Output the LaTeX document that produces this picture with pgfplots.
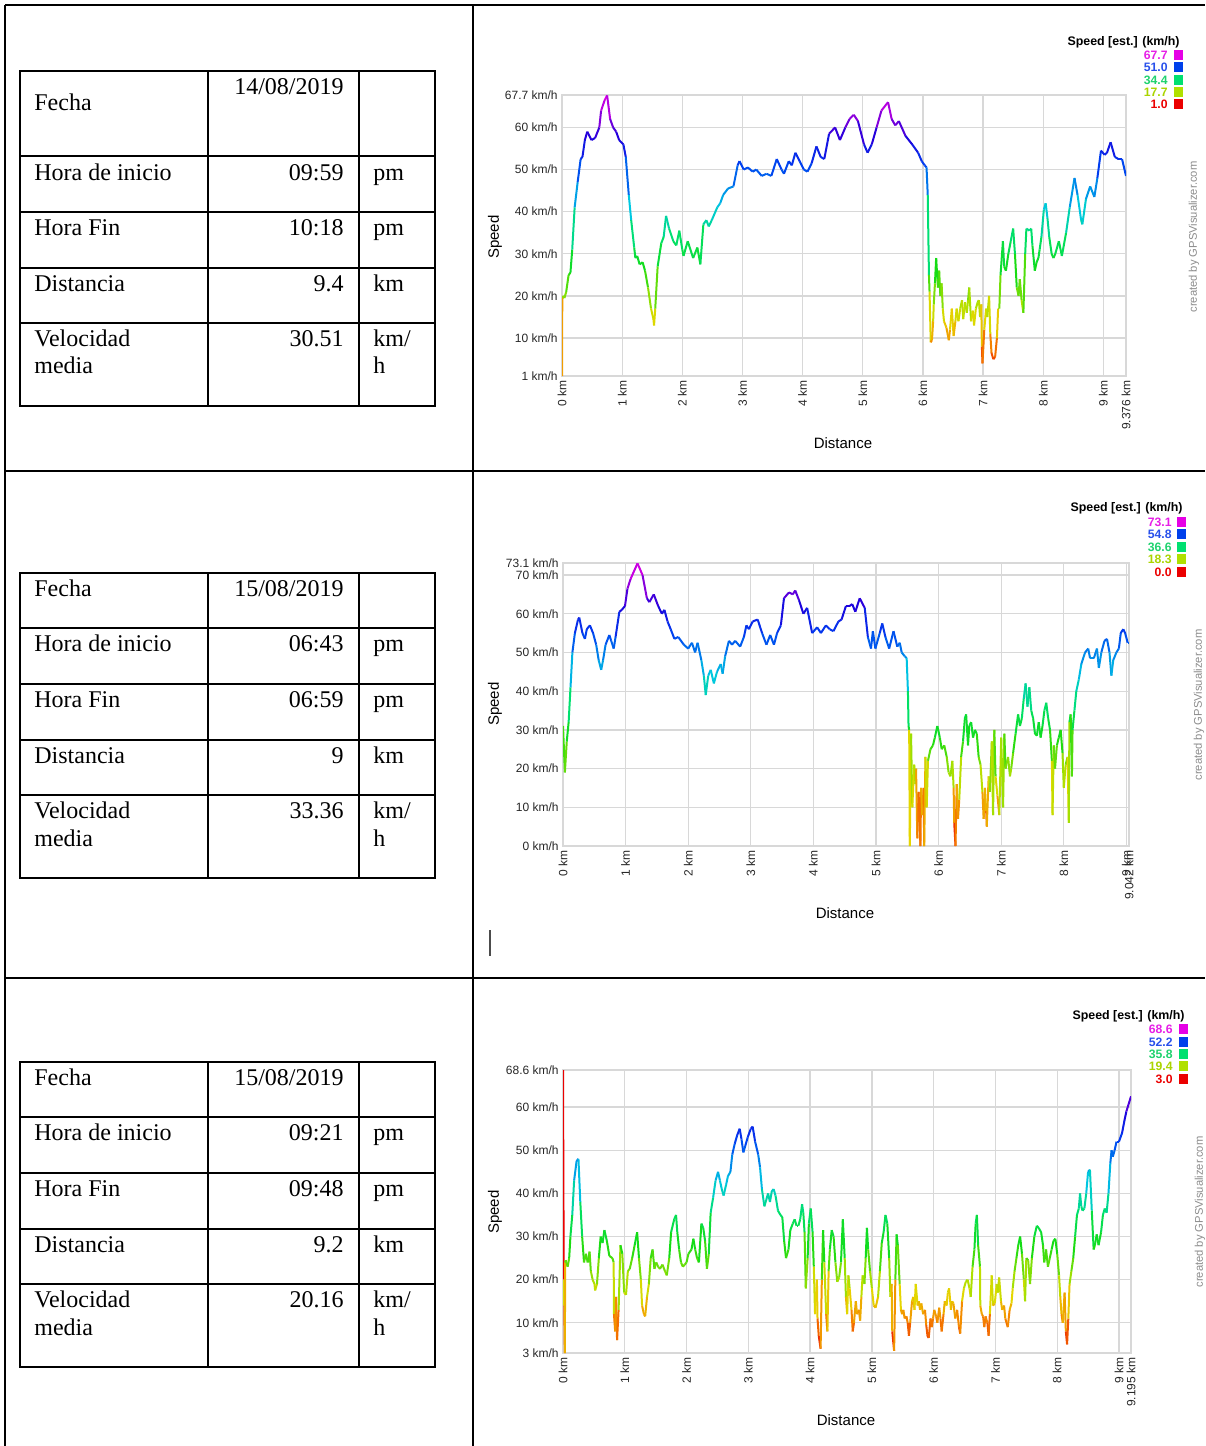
\documentclass[border=0pt]{standalone}
\usepackage{pgfplots}
\pgfplotsset{compat=1.18}
\usepackage{fontspec}
\setmainfont{Liberation Serif}
\newfontfamily\arial{Liberation Sans}
\definecolor{gridgray}{RGB}{216,216,216}
\definecolor{lgmag}{RGB}{230,0,230}
\definecolor{lgblue}{RGB}{0,64,235}
\definecolor{lggreen}{RGB}{0,224,112}
\definecolor{lgyg}{RGB}{176,224,0}
\definecolor{lgred}{RGB}{235,0,0}
\definecolor{tmag}{RGB}{230,30,230}
\definecolor{tblue}{RGB}{40,80,235}
\definecolor{tgreen}{RGB}{30,210,110}
\definecolor{tyg}{RGB}{170,212,0}
\definecolor{tred}{RGB}{235,0,0}
\definecolor{credgray}{RGB}{140,140,140}
\newcommand\tabfont{\fontsize{12}{14}\selectfont}
\newcommand\tickfont{\arial\fontsize{6}{7}\selectfont}
\newcommand\labfont{\arial\fontsize{7.5}{9}\selectfont}
\newcommand\lgtitlefont{\arial\bfseries\fontsize{6.2}{7}\selectfont}
\newcommand\lgfont{\arial\bfseries\fontsize{6.1}{7}\selectfont}
\newcommand\credfont{\arial\fontsize{5.6}{7}\selectfont}
\pgfplotsset{
  colormap={speed}{rgb255(0pt)=(235,0,0); rgb255(12pt)=(245,135,0); rgb255(20pt)=(230,215,0); rgb255(25pt)=(176,224,0); rgb255(38pt)=(20,220,20); rgb255(50pt)=(0,224,112); rgb255(60pt)=(0,200,225); rgb255(68pt)=(0,130,235); rgb255(75pt)=(0,64,240); rgb255(85pt)=(30,0,220); rgb255(92pt)=(140,0,220); rgb255(100pt)=(230,0,230)},
  gpsaxis/.style={
    scale only axis,
    anchor=south west,
    grid=major,
    major grid style={draw=gridgray, line width=0.65pt},
    axis line style={draw=gridgray, line width=0.65pt},
    major tick length=0pt,
    tick style={draw=none},
    tick label style={font=\tickfont, text=black!85},
    xticklabel style={rotate=90, anchor=east, inner sep=2pt},
    yticklabel style={anchor=east, inner sep=2pt},
    colormap name=speed,
  },
}
\begin{document}
\begin{tikzpicture}
% ---------------- frame and tables ----------------
\begin{scope}[x=0.5pt,y=-0.5pt]
\draw[line width=1pt] (5,5) -- (1205,5);
\draw[line width=1pt] (5,5) -- (5,1446);
\draw[line width=1pt] (473,5) -- (473,1446);
\draw[line width=1pt] (5,471) -- (1205,471);
\draw[line width=1pt] (5,978) -- (1205,978);
\draw[line width=1pt, black!70] (490,930) -- (490,956);
% table 1
\draw[line width=1pt] (20,71) rectangle (435,406);
\foreach \yy in {156,212,268,323} \draw[line width=1pt] (20,\yy) -- (435,\yy);
\draw[line width=1pt] (208,71) -- (208,406);
\draw[line width=1pt] (359,71) -- (359,406);
\begin{scope}[every node/.style={inner sep=0pt, font=\tabfont}]
\node[anchor=base west] at (34,110) {Fecha};
\node[anchor=base east] at (344,94) {14/08/2019};
\node[anchor=base west] at (34,180) {Hora de inicio};
\node[anchor=base east] at (344,180) {09:59};
\node[anchor=base west] at (373,180) {pm};
\node[anchor=base west] at (34,235) {Hora Fin};
\node[anchor=base east] at (344,235) {10:18};
\node[anchor=base west] at (373,235) {pm};
\node[anchor=base west] at (34,291) {Distancia};
\node[anchor=base east] at (344,291) {9.4};
\node[anchor=base west] at (373,291) {km};
\node[anchor=base west] at (34,346) {Velocidad};
\node[anchor=base west] at (34,373) {media};
\node[anchor=base east] at (344,346) {30.51};
\node[anchor=base west] at (373,346) {km/};
\node[anchor=base west] at (373,373) {h};
\end{scope}
% table 2
\draw[line width=1pt] (20,573) rectangle (435,878);
\foreach \yy in {628,684,740,795} \draw[line width=1pt] (20,\yy) -- (435,\yy);
\draw[line width=1pt] (208,573) -- (208,878);
\draw[line width=1pt] (359,573) -- (359,878);
\begin{scope}[every node/.style={inner sep=0pt, font=\tabfont}]
\node[anchor=base west] at (34,596) {Fecha};
\node[anchor=base east] at (344,596) {15/08/2019};
\node[anchor=base west] at (34,651) {Hora de inicio};
\node[anchor=base east] at (344,651) {06:43};
\node[anchor=base west] at (373,651) {pm};
\node[anchor=base west] at (34,707) {Hora Fin};
\node[anchor=base east] at (344,707) {06:59};
\node[anchor=base west] at (373,707) {pm};
\node[anchor=base west] at (34,763) {Distancia};
\node[anchor=base east] at (344,763) {9};
\node[anchor=base west] at (373,763) {km};
\node[anchor=base west] at (34,818) {Velocidad};
\node[anchor=base west] at (34,846) {media};
\node[anchor=base east] at (344,818) {33.36};
\node[anchor=base west] at (373,818) {km/};
\node[anchor=base west] at (373,846) {h};
\end{scope}
% table 3
\draw[line width=1pt] (20,1062) rectangle (435,1367);
\foreach \yy in {1117,1173,1229,1284} \draw[line width=1pt] (20,\yy) -- (435,\yy);
\draw[line width=1pt] (208,1062) -- (208,1367);
\draw[line width=1pt] (359,1062) -- (359,1367);
\begin{scope}[every node/.style={inner sep=0pt, font=\tabfont}]
\node[anchor=base west] at (34,1085) {Fecha};
\node[anchor=base east] at (344,1085) {15/08/2019};
\node[anchor=base west] at (34,1140) {Hora de inicio};
\node[anchor=base east] at (344,1140) {09:21};
\node[anchor=base west] at (373,1140) {pm};
\node[anchor=base west] at (34,1196) {Hora Fin};
\node[anchor=base east] at (344,1196) {09:48};
\node[anchor=base west] at (373,1196) {pm};
\node[anchor=base west] at (34,1252) {Distancia};
\node[anchor=base east] at (344,1252) {9.2};
\node[anchor=base west] at (373,1252) {km};
\node[anchor=base west] at (34,1307) {Velocidad};
\node[anchor=base west] at (34,1335) {media};
\node[anchor=base east] at (344,1307) {20.16};
\node[anchor=base west] at (373,1307) {km/};
\node[anchor=base west] at (373,1335) {h};
\end{scope}
% chart decorations
\node[rotate=90, font=\labfont] at (495,237) {Speed};
\node[font=\labfont] at (843,443) {Distance};
\node[rotate=90, font=\labfont] at (495,704) {Speed};
\node[font=\labfont] at (845,913) {Distance};
\node[rotate=90, font=\labfont] at (495,1212) {Speed};
\node[font=\labfont] at (846,1420) {Distance};
\node[rotate=90, font=\credfont, text=credgray] at (1194,237) {created by GPSVisualizer.com};
\node[rotate=90, font=\credfont, text=credgray] at (1199,705) {created by GPSVisualizer.com};
\node[rotate=90, font=\credfont, text=credgray] at (1200,1212) {created by GPSVisualizer.com};
% legend 1
\node[anchor=east, inner sep=0pt, font=\lgtitlefont] at (1180,42) {Speed [est.] (km/h)};
\begin{scope}[every node/.style={anchor=east, inner sep=0pt, font=\lgfont}]
\node[text=tmag] at (1168,55) {67.7};
\node[text=tblue] at (1168,67) {51.0};
\node[text=tgreen] at (1168,80) {34.4};
\node[text=tyg] at (1168,92) {17.7};
\node[text=tred] at (1168,104) {1.0};
\end{scope}
\fill[lgmag] (1174,50) rectangle (1183,60);
\fill[lgblue] (1174,62) rectangle (1183,72);
\fill[lggreen] (1174,75) rectangle (1183,85);
\fill[lgyg] (1174,87) rectangle (1183,97);
\fill[lgred] (1174,99) rectangle (1183,109);
% legend 2
\node[anchor=east, inner sep=0pt, font=\lgtitlefont] at (1183,508) {Speed [est.] (km/h)};
\begin{scope}[every node/.style={anchor=east, inner sep=0pt, font=\lgfont}]
\node[text=tmag] at (1172,522) {73.1};
\node[text=tblue] at (1172,534) {54.8};
\node[text=tgreen] at (1172,547) {36.6};
\node[text=tyg] at (1172,559) {18.3};
\node[text=tred] at (1172,572) {0.0};
\end{scope}
\fill[lgmag] (1177,517) rectangle (1186,527);
\fill[lgblue] (1177,529) rectangle (1186,539);
\fill[lggreen] (1177,542) rectangle (1186,552);
\fill[lgyg] (1177,554) rectangle (1186,564);
\fill[lgred] (1177,567) rectangle (1186,577);
% legend 3
\node[anchor=east, inner sep=0pt, font=\lgtitlefont] at (1185,1016) {Speed [est.] (km/h)};
\begin{scope}[every node/.style={anchor=east, inner sep=0pt, font=\lgfont}]
\node[text=tmag] at (1173,1029) {68.6};
\node[text=tblue] at (1173,1042) {52.2};
\node[text=tgreen] at (1173,1054) {35.8};
\node[text=tyg] at (1173,1066) {19.4};
\node[text=tred] at (1173,1079) {3.0};
\end{scope}
\fill[lgmag] (1179,1024) rectangle (1188,1034);
\fill[lgblue] (1179,1037) rectangle (1188,1047);
\fill[lggreen] (1179,1049) rectangle (1188,1059);
\fill[lgyg] (1179,1061) rectangle (1188,1071);
\fill[lgred] (1179,1074) rectangle (1188,1084);
\end{scope}

% ---------------- chart 1 ----------------
\begin{axis}[gpsaxis, at={(281pt,-188pt)}, width=282pt, height=140.5pt,
  xmin=0, xmax=9.376, ymin=1, ymax=67.7,
  point meta min=1, point meta max=67.7,
  xtick={0,1,2,3,4,5,6,7,8,9,9.376},
  xticklabels={0 km,1 km,2 km,3 km,4 km,5 km,6 km,7 km,8 km,9 km,9.376 km},
  ytick={1,10,20,30,40,50,60,67.7},
  yticklabels={1 km/h,10 km/h,20 km/h,30 km/h,40 km/h,50 km/h,60 km/h,67.7 km/h}]
\addplot[mesh, point meta=y, line width=1pt] coordinates {
(0,1) (0.005,20) (0.04,19.5) (0.07,21) (0.11,25) (0.14,25.5) (0.17,31) (0.21,41) (0.26,47) (0.31,52.5) (0.34,53) (0.38,57) (0.42,59) (0.49,57) (0.55,57.5) (0.62,60) (0.65,64) (0.71,66.5) (0.75,67.6) (0.80,62) (0.85,60) (0.90,59) (0.95,57) (1.02,56) (1.06,53) (1.11,44) (1.15,38) (1.20,31.5) (1.22,29) (1.25,29.5) (1.29,27.5) (1.34,28) (1.38,26) (1.43,22) (1.48,17) (1.52,14.5) (1.53,13) (1.55,17) (1.59,27) (1.65,32.5) (1.69,34) (1.73,39) (1.78,36) (1.85,33) (1.90,32) (1.95,35.5) (2.00,31) (2.02,29.5) (2.09,33) (2.18,29) (2.25,31.5) (2.30,27.5) (2.35,37) (2.40,38) (2.44,36.5) (2.49,38) (2.58,41) (2.63,42) (2.68,44) (2.76,45.5) (2.85,46) (2.92,51) (2.95,52) (3.02,50) (3.09,50.5) (3.17,49.5) (3.23,50) (3.32,48.5) (3.40,49) (3.48,48.5) (3.57,52.5) (3.65,50) (3.69,49) (3.77,52) (3.82,51) (3.88,54) (3.95,52) (4.02,50) (4.08,49.5) (4.15,51.5) (4.23,55.5) (4.30,53) (4.36,52.5) (4.44,58.5) (4.54,60) (4.62,57) (4.71,60) (4.78,62) (4.85,63) (4.92,61.5) (5.02,56) (5.08,54) (5.15,56) (5.23,60) (5.31,64) (5.42,66) (5.48,62) (5.54,60.5) (5.60,61.5) (5.71,58) (5.82,56) (5.92,54) (5.98,52) (6.03,51) (6.06,50.5) (6.08,44) (6.10,25) (6.11,21) (6.13,9) (6.15,9.5) (6.17,14) (6.18,18) (6.20,23) (6.22,29) (6.24,24) (6.25,22) (6.27,26) (6.29,20) (6.31,23) (6.33,17) (6.35,14) (6.39,12.5) (6.43,9.5) (6.45,12) (6.48,17) (6.51,10.5) (6.54,14) (6.56,17) (6.59,14) (6.62,17) (6.65,19) (6.67,14.5) (6.70,18.5) (6.73,16) (6.75,19) (6.77,22) (6.80,14) (6.83,16.5) (6.85,13) (6.88,17) (6.91,18.5) (6.93,19) (6.95,15) (6.97,18) (6.98,8) (6.99,4) (7.02,12) (7.05,17) (7.07,15) (7.10,20) (7.12,11) (7.14,6.5) (7.17,5) (7.20,5.5) (7.23,10) (7.25,17) (7.27,17) (7.29,25) (7.33,33) (7.35,27) (7.38,26) (7.42,30) (7.46,33) (7.50,36) (7.53,30) (7.56,22) (7.59,20) (7.61,24) (7.64,19) (7.67,16) (7.70,30) (7.72,36) (7.77,35.5) (7.80,36) (7.82,32) (7.86,26) (7.89,28) (7.92,29) (7.94,31) (7.97,34) (8.01,40.5) (8.04,42) (8.07,38.5) (8.10,34) (8.14,30) (8.17,29) (8.20,30) (8.26,33) (8.31,29.5) (8.38,35) (8.44,41) (8.52,48) (8.57,44) (8.63,38) (8.65,37) (8.71,43) (8.78,46) (8.85,43.5) (8.90,48) (8.96,54.5) (9.02,53.5) (9.06,54) (9.12,56.5) (9.19,53) (9.25,52.5) (9.31,52.5) (9.376,48.5)
};
\end{axis}

% ---------------- chart 2 ----------------
\begin{axis}[gpsaxis, at={(281.5pt,-423pt)}, width=283pt, height=141.5pt,
  xmin=0, xmax=9.042, ymin=0, ymax=73.1,
  point meta min=0, point meta max=73.1,
  xtick={0,1,2,3,4,5,6,7,8,9,9.042},
  xticklabels={0 km,1 km,2 km,3 km,4 km,5 km,6 km,7 km,8 km,9 km,9.042 km},
  ytick={0,10,20,30,40,50,60,70,73.1},
  yticklabels={0 km/h,10 km/h,20 km/h,30 km/h,40 km/h,50 km/h,60 km/h,70 km/h,73.1 km/h}]
\addplot[mesh, point meta=y, line width=1pt] coordinates {
(0,31) (0.03,19) (0.06,27) (0.09,32) (0.12,41) (0.15,50) (0.19,55) (0.24,58.5) (0.26,59) (0.31,55) (0.35,53.5) (0.38,56) (0.43,57) (0.48,55) (0.53,52) (0.57,48) (0.61,45.5) (0.64,48) (0.68,52) (0.74,54.5) (0.77,53) (0.81,51) (0.84,54) (0.90,60.5) (0.94,61) (0.99,62) (1.03,66.5) (1.08,69) (1.19,73) (1.27,70) (1.34,64) (1.38,63) (1.45,65) (1.52,62) (1.58,60) (1.62,61) (1.67,58) (1.72,56) (1.78,53.5) (1.84,54) (1.93,52) (2.00,51) (2.06,52.5) (2.11,50) (2.15,52.5) (2.21,48) (2.25,44) (2.28,39) (2.32,44) (2.36,45.5) (2.41,42) (2.46,45) (2.52,47) (2.55,44.5) (2.59,49) (2.65,53) (2.70,52) (2.75,53) (2.83,51.5) (2.89,54) (2.93,57) (2.97,56) (3.03,58) (3.11,58.5) (3.18,55) (3.25,52) (3.31,54.5) (3.37,52) (3.42,55) (3.48,57) (3.53,64) (3.61,65.5) (3.67,65) (3.71,66) (3.77,63.5) (3.84,60) (3.90,61.5) (3.98,55) (4.06,56.5) (4.12,55) (4.20,57) (4.26,56) (4.32,55.5) (4.40,58) (4.45,58.5) (4.52,62) (4.58,62) (4.62,62.5) (4.67,60.5) (4.74,64) (4.82,61.5) (4.87,54) (4.92,51) (4.95,55.5) (4.99,51) (5.06,55) (5.10,57.5) (5.15,54) (5.21,51) (5.28,55.5) (5.34,51.5) (5.38,52.5) (5.41,50) (5.46,49) (5.49,48.5) (5.51,40) (5.52,31) (5.53,30) (5.54,0) (5.56,29) (5.58,10) (5.61,21) (5.63,16) (5.64,20) (5.66,2) (5.68,14) (5.71,0) (5.72,15) (5.74,8) (5.76,15) (5.77,0) (5.79,23) (5.81,10) (5.83,22) (5.87,25) (5.91,26) (5.94,28) (5.98,31) (6.02,28) (6.05,25) (6.09,26) (6.13,23) (6.16,19) (6.19,18) (6.22,22) (6.24,15) (6.25,6) (6.27,0) (6.29,16) (6.31,7) (6.33,12) (6.36,23) (6.39,27) (6.42,33) (6.44,34) (6.47,26) (6.49,31) (6.52,32) (6.55,28) (6.58,30) (6.61,29) (6.64,23) (6.67,21) (6.70,14) (6.72,7) (6.74,15) (6.76,9) (6.77,5) (6.80,18) (6.82,14) (6.85,27) (6.87,8) (6.89,30) (6.91,18) (6.94,13) (6.97,8) (7.00,28) (7.03,10) (7.05,29) (7.07,20) (7.11,23) (7.14,18) (7.16,20) (7.19,24) (7.23,29) (7.27,34) (7.30,31) (7.33,33) (7.36,38) (7.39,42) (7.42,36) (7.45,41) (7.48,35) (7.51,33) (7.54,29) (7.57,28.5) (7.60,32) (7.63,28) (7.66,31) (7.69,35) (7.72,37) (7.75,33) (7.78,30) (7.81,22) (7.82,8) (7.84,26) (7.86,20) (7.89,26) (7.92,28) (7.95,30) (7.98,24) (8.00,15) (8.03,21) (8.06,23) (8.08,6) (8.09,32) (8.11,34) (8.13,18) (8.14,30) (8.17,35) (8.20,40) (8.24,43) (8.28,47) (8.34,50) (8.39,51) (8.42,48.5) (8.48,48.5) (8.53,51) (8.56,46) (8.60,50) (8.65,53) (8.69,53.5) (8.73,50) (8.76,44) (8.79,48) (8.84,50) (8.88,51) (8.91,55) (8.95,56) (8.98,55) (9.02,52.5) (9.042,52.5)
};
\end{axis}

% ---------------- chart 3 ----------------
\begin{axis}[gpsaxis, at={(281.5pt,-676.5pt)}, width=284pt, height=141.5pt,
  xmin=0, xmax=9.195, ymin=3, ymax=68.6,
  point meta min=3, point meta max=68.6,
  xtick={0,1,2,3,4,5,6,7,8,9,9.195},
  xticklabels={0 km,1 km,2 km,3 km,4 km,5 km,6 km,7 km,8 km,9 km,9.195 km},
  ytick={3,10,20,30,40,50,60,68.6},
  yticklabels={3 km/h,10 km/h,20 km/h,30 km/h,40 km/h,50 km/h,60 km/h,68.6 km/h}]
\addplot[lgred, line width=1pt] coordinates {(0.002,68.6) (0.004,52) (0.012,20)};
\addplot[mesh, point meta=y, line width=1pt] coordinates {
(0.012,20) (0.02,14) (0.03,3) (0.035,24) (0.045,24.5) (0.075,23) (0.10,25) (0.12,30) (0.15,35) (0.18,43) (0.22,47.5) (0.25,48) (0.28,38) (0.31,30) (0.34,24) (0.37,26) (0.40,24) (0.43,26.5) (0.45,22) (0.48,20) (0.51,19) (0.52,17.5) (0.55,19) (0.58,25) (0.61,30) (0.64,28.5) (0.67,31.5) (0.71,29) (0.75,25.5) (0.80,25) (0.82,24) (0.825,12) (0.845,8) (0.86,16) (0.875,6) (0.90,13) (0.93,28) (0.96,26) (0.99,17) (1.02,16.5) (1.05,22) (1.08,22.5) (1.12,25) (1.16,28) (1.20,31) (1.23,25) (1.26,20) (1.28,14) (1.31,12) (1.33,11.5) (1.36,16) (1.39,19) (1.42,25) (1.45,27) (1.48,22.5) (1.51,24) (1.54,23) (1.57,22.5) (1.61,23.5) (1.65,22) (1.68,21) (1.72,25) (1.75,31) (1.80,34) (1.83,35) (1.85,31) (1.88,27) (1.91,24) (1.94,23) (1.97,23.5) (2.00,24) (2.03,26) (2.08,27) (2.11,29.5) (2.14,27) (2.17,25) (2.20,24) (2.24,33) (2.27,32) (2.30,29) (2.33,22.5) (2.36,26) (2.39,35.5) (2.43,39) (2.47,43) (2.51,45) (2.54,43) (2.57,41) (2.60,39.5) (2.64,42) (2.67,44) (2.71,45) (2.74,49) (2.78,51.5) (2.82,53.5) (2.86,55) (2.89,52.5) (2.92,49.5) (2.95,51) (2.99,53) (3.04,55) (3.07,55.5) (3.11,52) (3.16,49) (3.19,46) (3.22,41) (3.26,37) (3.29,38.5) (3.32,40) (3.35,38) (3.38,40.5) (3.41,41) (3.44,39.5) (3.48,36) (3.52,35) (3.55,34.5) (3.58,29) (3.61,25) (3.65,27) (3.68,31.5) (3.72,33) (3.75,34) (3.78,32.5) (3.81,32.5) (3.84,34) (3.87,37.5) (3.89,35.5) (3.91,31) (3.93,18) (3.96,25) (3.98,33) (4.01,36.5) (4.04,31) (4.06,23) (4.08,12) (4.11,20) (4.12,11) (4.14,7) (4.17,4) (4.19,20) (4.21,31.5) (4.23,24) (4.26,12) (4.28,8) (4.30,22) (4.32,27) (4.35,31.5) (4.38,30) (4.41,24) (4.44,19.5) (4.47,20.5) (4.50,24) (4.53,34) (4.56,25) (4.58,16) (4.60,12) (4.62,21) (4.64,18) (4.67,13) (4.69,8) (4.71,10) (4.74,15) (4.76,12) (4.79,13) (4.81,10.5) (4.83,16) (4.85,21) (4.88,19) (4.90,25) (4.92,32) (4.94,27) (4.97,22) (5.00,18) (5.03,14) (5.06,13.5) (5.10,16) (5.13,22) (5.16,28.5) (5.19,31) (5.22,35) (5.25,33) (5.28,25) (5.30,16) (5.32,19) (5.33,8) (5.36,3.5) (5.38,20) (5.40,30.5) (5.42,28) (5.45,19) (5.47,13) (5.49,12) (5.51,13) (5.53,11) (5.56,11.5) (5.58,10) (5.60,7) (5.62,10) (5.65,15) (5.67,16) (5.69,13) (5.71,19) (5.74,14) (5.76,15) (5.78,13) (5.80,14.5) (5.83,12) (5.86,13) (5.88,9.5) (5.90,7) (5.92,6.5) (5.95,11) (5.97,9) (5.99,11) (6.01,13) (6.04,11.5) (6.06,10) (6.09,13.5) (6.11,11) (6.13,8) (6.16,12) (6.18,15) (6.21,14) (6.23,17) (6.25,18) (6.28,13) (6.30,15) (6.32,14.5) (6.35,11) (6.38,13) (6.41,9) (6.43,7.5) (6.46,15) (6.49,18) (6.52,19.5) (6.55,20) (6.58,18) (6.60,16) (6.63,23) (6.66,27) (6.68,33) (6.70,35) (6.72,28) (6.75,23) (6.755,14) (6.78,12) (6.80,11.5) (6.82,9) (6.84,11.5) (6.87,10) (6.89,7) (6.91,12) (6.94,21) (6.96,14) (6.99,14.5) (7.02,19) (7.04,17) (7.06,20.5) (7.09,15) (7.11,13) (7.14,14) (7.16,11) (7.18,10) (7.20,9) (7.23,13) (7.26,14.5) (7.28,18) (7.31,22) (7.34,25) (7.37,28) (7.40,30) (7.43,26) (7.46,20) (7.48,15) (7.50,25) (7.53,24.5) (7.56,19) (7.59,25) (7.63,30) (7.67,32.5) (7.70,32) (7.74,31) (7.77,28) (7.79,24) (7.82,27) (7.85,23) (7.88,25) (7.91,27) (7.94,29) (7.97,29.5) (8.00,26) (8.03,21) (8.05,16) (8.07,12) (8.09,10) (8.12,17) (8.14,8) (8.16,5) (8.18,11) (8.20,19) (8.23,22) (8.26,25) (8.29,30) (8.32,35) (8.35,36.5) (8.37,40) (8.39,37) (8.41,36) (8.44,36.5) (8.47,40) (8.50,45) (8.53,45.5) (8.56,36) (8.59,27) (8.61,28) (8.64,30.5) (8.67,28) (8.71,31) (8.74,35) (8.77,36.5) (8.80,35.5) (8.83,40) (8.86,47) (8.88,50) (8.90,48.5) (8.93,50) (8.96,52) (9.00,52) (9.05,54) (9.09,57) (9.12,59) (9.195,62.5)
};
\end{axis}

\pgfresetboundingbox
\path[use as bounding box] (0,0) rectangle (602.5pt,-723pt);
\end{tikzpicture}
\end{document}
